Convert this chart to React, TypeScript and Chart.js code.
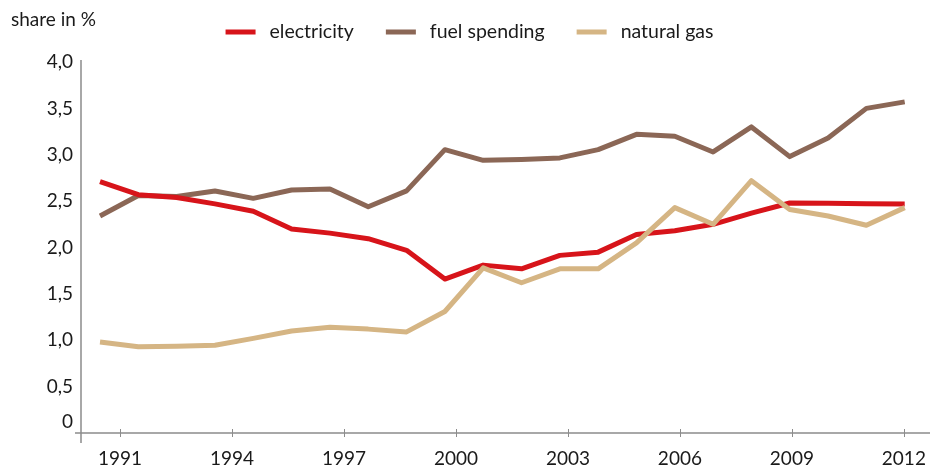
import React, { useEffect, useRef } from "react";
import { Chart, registerables } from "chart.js";

Chart.register(...registerables);

const years = [
  1991, 1992, 1993, 1994, 1995, 1996, 1997, 1998, 1999, 2000, 2001,
  2002, 2003, 2004, 2005, 2006, 2007, 2008, 2009, 2010, 2011, 2012,
];
const electricity = [
  2.71, 2.57, 2.54, 2.47, 2.39, 2.2, 2.155, 2.095, 1.97, 1.66, 1.81,
  1.77, 1.915, 1.95, 2.14, 2.18, 2.25, 2.37, 2.48, 2.476, 2.472, 2.47,
];
const fuelSpending = [
  2.34, 2.56, 2.55, 2.61, 2.53, 2.62, 2.63, 2.44, 2.61, 3.055, 2.94,
  2.95, 2.966, 3.055, 3.22, 3.2, 3.03, 3.3, 2.98, 3.18, 3.5, 3.57,
];
const naturalGas = [
  0.98, 0.93, 0.935, 0.947, 1.02, 1.1, 1.14, 1.12, 1.09, 1.31, 1.78,
  1.62, 1.77, 1.77, 2.05, 2.43, 2.25, 2.72, 2.41, 2.34, 2.24, 2.43,
];
const seriesNames = ["electricity", "fuel spending", "natural gas"];
const seriesColors = ["#d7141a", "#8b6756", "#d5b584"];
const xTickYears = [1991, 1994, 1997, 2000, 2003, 2006, 2009, 2012];
const yAxisTitle = "share in %";

const FONT = "Lato, 'Open Sans', sans-serif";
const FONT_SIZE = 19;
const TEXT_COLOR = "#1a1a1a";
const AXIS_COLOR = "#8c8c8c";

const overlayPlugin = {
  id: "overlay",
  afterDraw(chart: any) {
    const ctx = chart.ctx;
    const area = chart.chartArea;
    const yearScale = chart.scales.xYears;
    ctx.save();
    // axes
    ctx.strokeStyle = AXIS_COLOR;
    ctx.lineWidth = 1.5;
    ctx.beginPath();
    ctx.moveTo(area.left, area.top - 2);
    ctx.lineTo(area.left, area.bottom + 10);
    ctx.moveTo(area.left - 6, area.bottom);
    ctx.lineTo(area.right, area.bottom);
    ctx.stroke();
    ctx.lineWidth = 1;
    ctx.beginPath();
    for (const yr of xTickYears) {
      const x = Math.round(yearScale.getPixelForValue(yr)) + 0.5;
      ctx.moveTo(x, area.bottom - 4);
      ctx.lineTo(x, area.bottom + 4);
    }
    ctx.stroke();

    // y axis title
    ctx.fillStyle = TEXT_COLOR;
    ctx.font = `${FONT_SIZE}px ${FONT}`;
    ctx.textBaseline = "middle";
    ctx.textAlign = "left";
    ctx.fillText(yAxisTitle, 11, 20);

    // legend
    ctx.font = `19.5px ${FONT}`;
    const swatchW = 30;
    const gapText = 14;
    const gapItem = 32;
    const widths = seriesNames.map((n) => ctx.measureText(n).width);
    const total =
      widths.reduce((a, b) => a + b, 0) +
      seriesNames.length * (swatchW + gapText) +
      (seriesNames.length - 1) * gapItem;
    let x = 469.5 - total / 2;
    const ly = 32;
    seriesNames.forEach((name, i) => {
      ctx.fillStyle = seriesColors[i];
      ctx.fillRect(x, ly - 2.5, swatchW, 5);
      x += swatchW + gapText;
      ctx.fillStyle = TEXT_COLOR;
      ctx.fillText(name, x, ly);
      x += widths[i] + gapItem;
    });
    ctx.restore();
  },
};

export default function App() {
  const canvasRef = useRef<HTMLCanvasElement | null>(null);

  useEffect(() => {
    if (!canvasRef.current) return;
    const idx = years.map((_, i) => i);
    const mk = (vals: number[]) => vals.map((v, i) => ({ x: idx[i], y: v }));
    const ds = (i: number, vals: number[], order: number) => ({
      label: seriesNames[i],
      data: mk(vals),
      borderColor: seriesColors[i],
      backgroundColor: seriesColors[i],
      borderWidth: 5,
      pointRadius: 0,
      tension: 0,
      order,
      xAxisID: "x",
    });
    const chart = new Chart(canvasRef.current, {
      type: "line",
      data: {
        datasets: [ds(0, electricity, 2), ds(1, fuelSpending, 3), ds(2, naturalGas, 1)],
      },
      options: {
        responsive: false,
        animation: false,
        layout: { padding: { top: 62, right: 1, left: 0, bottom: 0 } },
        plugins: {
          legend: { display: false },
          tooltip: { enabled: false },
        },
        elements: { line: { borderJoinStyle: "round", borderCapStyle: "butt" } },
        scales: {
          x: {
            type: "linear",
            display: false,
            min: -0.496,
            max: 21.66,
          },
          xYears: {
            type: "linear",
            position: "bottom",
            min: 1989.955,
            max: 2012.7,
            grid: { display: false, drawTicks: false },
            border: { display: false },
            afterBuildTicks: (scale: any) => {
              scale.ticks = xTickYears.map((v) => ({ value: v }));
            },
            afterFit: (scale: any) => {
              scale.height = 33;
              scale.paddingLeft = 0;
              scale.paddingRight = 0;
            },
            ticks: {
              autoSkip: false,
              maxRotation: 0,
              padding: 14,
              color: TEXT_COLOR,
              font: { family: FONT, size: FONT_SIZE },
              callback: (v: any) => String(v),
            },
          },
          y: {
            min: 0,
            max: 4,
            grid: { display: false, drawTicks: false },
            border: { display: false },
            afterFit: (scale: any) => {
              scale.width = 81;
              scale.paddingTop = 0;
              scale.paddingBottom = 0;
            },
            ticks: {
              autoSkip: false,
              stepSize: 0.5,
              padding: 8,
              color: TEXT_COLOR,
              font: { family: FONT, size: FONT_SIZE },
              callback: (v: any) =>
                v === 0 ? ["0", ""] : Number(v).toFixed(1).replace(".", ","),
            },
          },
        },
      },
      plugins: [overlayPlugin],
    });
    return () => chart.destroy();
  }, []);

  return (
    <div style={{ position: "absolute", left: 0, top: 0, width: 931, height: 466, background: "#fff" }}>
      <canvas ref={canvasRef} width={931} height={466} />
    </div>
  );
}
